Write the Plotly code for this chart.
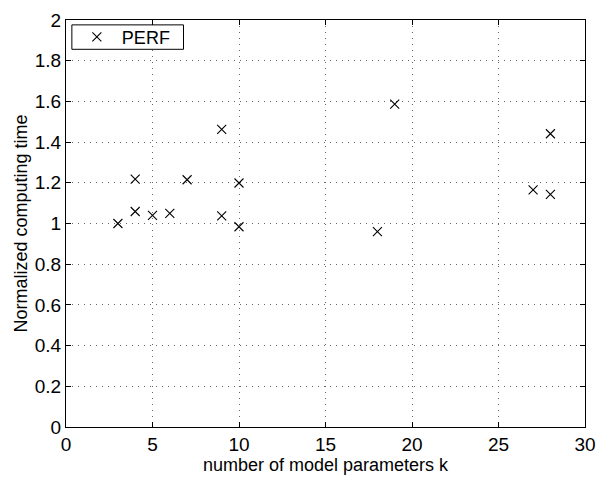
import plotly.graph_objects as go

# Data
k_params = [3, 4, 4, 5, 6, 7, 9, 9, 10, 10, 18, 19, 27, 28, 28]
norm_time = [1.00, 1.059, 1.218, 1.04, 1.05, 1.215, 1.463, 1.037, 1.199, 0.984,
             0.96, 1.587, 1.165, 1.143, 1.441]
series_name = "PERF"
x_ticks = [0, 5, 10, 15, 20, 25, 30]
y_ticks = [0, 0.2, 0.4, 0.6, 0.8, 1, 1.2, 1.4, 1.6, 1.8, 2]

FONT = "Liberation Sans, Arial, Helvetica, sans-serif"

fig = go.Figure()
fig.add_trace(go.Scatter(
    x=k_params, y=norm_time, mode="markers", name=series_name,
    marker=dict(symbol="x-thin-open", size=9, color="black",
                line=dict(color="black", width=1.1)),
    showlegend=True,
))

axis_common = dict(
    showline=True, linecolor="black", linewidth=1, mirror="ticks",
    ticks="inside", ticklen=5, tickcolor="black", tickwidth=1,
    showgrid=True, gridcolor="#666666", griddash="1px,5px", gridwidth=1,
    zeroline=False, tickfont=dict(family=FONT, size=19, color="black"),
)

fig.update_xaxes(range=[0, 30], tickvals=x_ticks,
                 title=dict(text="number of model parameters k", standoff=0,
                            font=dict(family=FONT, size=18, color="black")),
                 **axis_common)
fig.update_yaxes(range=[0, 2], tickvals=y_ticks,
                 title=dict(text="Normalized computing time", standoff=2,
                            font=dict(family=FONT, size=18, color="black")),
                 **axis_common)

# Legend frame (compact, MATLAB-style)
fig.add_shape(type="rect", xref="paper", yref="paper",
              x0=0.0113, x1=0.2264, y0=0.928, y1=0.988,
              line=dict(color="black", width=1), fillcolor="white", layer="above")

fig.update_layout(
    width=606, height=477,
    margin=dict(l=66, r=10, t=16, b=45),
    paper_bgcolor="white", plot_bgcolor="white",
    font=dict(family=FONT, size=18, color="black"),
    legend=dict(x=0.0113, y=0.958, xanchor="left", yanchor="middle",
                borderwidth=0, bgcolor="rgba(0,0,0,0)",
                font=dict(family=FONT, size=18, color="black"),
                itemwidth=40, tracegroupgap=0),
)

fig.write_html("out.html")
